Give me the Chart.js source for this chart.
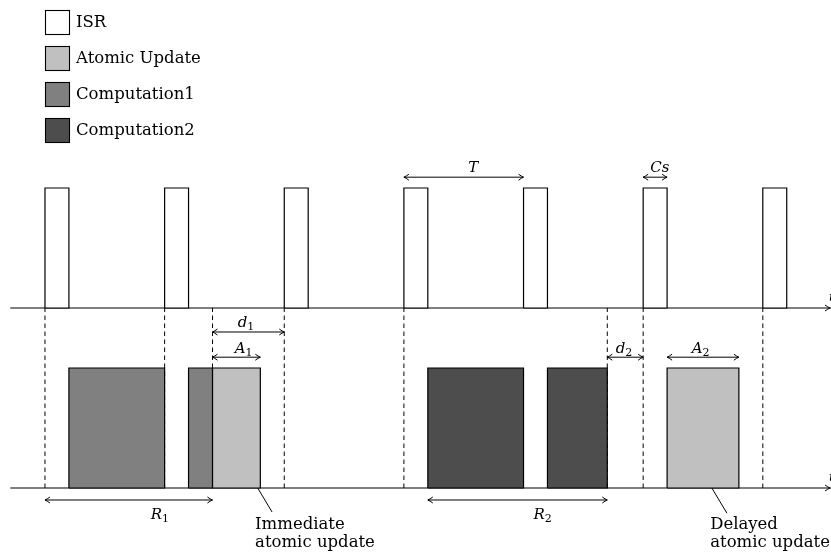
<!DOCTYPE html>
<html>
<head>
<meta charset="utf-8">
<script src="https://cdn.jsdelivr.net/npm/chart.js@4.4.0/dist/chart.umd.min.js"></script>
<style>
  html, body { margin: 0; padding: 0; background: #fff; }
  #wrap { width: 831px; height: 554px; }
</style>
</head>
<body>
<div id="wrap"><canvas id="timing-chart"></canvas></div>
<script>
// time is in ISR lengths (Cs = 1), heights in arbitrary units
const isrStarts = [0, 5, 10, 15, 20, 25, 30];
const isrLength = 1;
const computation1 = [[1, 5], [6, 7]];
const computation2 = [[16, 20], [21, 23.5]];
const atomicUpdates = [[7, 9], [26, 29]];
const markers = [0, 5, 7, 10, 15, 23.5, 25, 30];

const spanNames = ['T', 'Cs', 'd1', 'A1', 'd2', 'A2', 'R1', 'R2'];
const spanFrom  = [15, 25, 7, 7, 23.5, 26, 0, 16];
const spanTo    = [20, 26, 10, 9, 25, 29, 7, 23.5];
const spanLabelAt = [17.9, 25.7, 8.4, 8.3, 24.2, 27.4, 4.8, 20.8];

const legendLabels = ['ISR', 'Atomic Update', 'Computation1', 'Computation2'];
const legendColors = ['#ffffff', '#c0c0c0', '#808080', '#4d4d4d'];

// layout levels (y units)
const baseLow = 0, baseHigh = 3, boxTop = 2, isrTop = 5;
const spanLevel = { T: 5.18, Cs: 5.18, d1: 2.6, A1: 2.18, d2: 2.18, A2: 2.18, R1: -0.2, R2: -0.2 };
const spanTextLevel = { T: 5.35, Cs: 5.35, d1: 2.76, A1: 2.34, d2: 2.34, A2: 2.34, R1: -0.43, R2: -0.43 };

function rect(a, b, lo, hi, fillColor) {
  return {
    data: [{x: a, y: lo}, {x: b, y: lo}, {x: b, y: hi}, {x: a, y: hi}, {x: a, y: lo}],
    showLine: true, fill: 'shape', backgroundColor: fillColor,
    borderColor: '#000', borderWidth: 1.2, pointRadius: 0, tension: 0
  };
}
function seg(x1, y1, x2, y2, dash, w) {
  return {
    data: [{x: x1, y: y1}, {x: x2, y: y2}],
    showLine: true, fill: false, borderColor: '#000', borderWidth: w || 1,
    borderDash: dash || [], pointRadius: 0, tension: 0
  };
}

const datasets = [];
isrStarts.forEach(s => datasets.push(rect(s, s + isrLength, baseHigh, isrTop, '#ffffff')));
computation1.forEach(c => datasets.push(rect(c[0], c[1], baseLow, boxTop, legendColors[2])));
computation2.forEach(c => datasets.push(rect(c[0], c[1], baseLow, boxTop, legendColors[3])));
atomicUpdates.forEach(c => datasets.push(rect(c[0], c[1], baseLow, boxTop, legendColors[1])));
markers.forEach(m => datasets.push(seg(m, baseLow, m, baseHigh, [4.5, 3.5], 1)));
spanNames.forEach((n, i) => datasets.push(seg(spanFrom[i], spanLevel[n], spanTo[i], spanLevel[n], [], 1)));
datasets.push(seg(-1.45, baseHigh, 32.85, baseHigh, [], 1.2));
datasets.push(seg(-1.45, baseLow, 32.85, baseLow, [], 1.2));
// callout leaders
datasets.push(seg(8.02, 0.58, 9.49, -0.4, [], 1));
datasets.push(seg(27.0, 0.58, 28.5, -0.42, [], 1));

function head(ctx, px, py, dir) {
  ctx.beginPath();
  ctx.moveTo(px - dir * 5, py - 3);
  ctx.quadraticCurveTo(px - dir * 2, py - 0.8, px, py);
  ctx.quadraticCurveTo(px - dir * 2, py + 0.8, px - dir * 5, py + 3);
  ctx.stroke();
}

const annotate = {
  id: 'annotate',
  afterDatasetsDraw(chart) {
    const {ctx, scales: {x, y}} = chart;
    ctx.save();
    ctx.strokeStyle = '#000';
    ctx.fillStyle = '#000';
    ctx.lineWidth = 1;
    spanNames.forEach((n, i) => {
      const py = y.getPixelForValue(spanLevel[n]);
      head(ctx, x.getPixelForValue(spanFrom[i]), py, -1);
      head(ctx, x.getPixelForValue(spanTo[i]), py, 1);
      const tx = x.getPixelForValue(spanLabelAt[i]);
      const ty = y.getPixelForValue(spanTextLevel[n]);
      const main = n.length > 1 && /\d/.test(n[1]) ? n[0] : n;
      const sub = main === n ? '' : n.slice(1);
      ctx.font = 'italic 15px "DejaVu Serif"';
      ctx.textBaseline = 'alphabetic';
      ctx.textAlign = 'left';
      const w1 = ctx.measureText(main).width;
      ctx.font = '11px "DejaVu Serif"';
      const w2 = sub ? ctx.measureText(sub).width : 0;
      const left = tx - (w1 + w2) / 2;
      ctx.font = 'italic 15px "DejaVu Serif"';
      ctx.fillText(main, left, ty + 5);
      if (sub) {
        ctx.font = '11px "DejaVu Serif"';
        ctx.fillText(sub, left + w1, ty + 8);
      }
    });
    // axis arrowheads and clipped axis names
    const right = x.getPixelForValue(32.85) - 1;
    head(ctx, right, y.getPixelForValue(baseHigh), 1);
    head(ctx, right, y.getPixelForValue(baseLow), 1);
    ctx.font = 'italic 13px "DejaVu Serif"';
    ctx.fillText('t', right - 1, y.getPixelForValue(baseHigh) - 7);
    ctx.fillText('t', right - 1, y.getPixelForValue(baseLow) - 7);

    // callout texts
    ctx.font = '16.5px "DejaVu Serif"';
    ctx.textAlign = 'left';
    ctx.textBaseline = 'middle';
    ctx.fillText('Immediate', x.getPixelForValue(8.78), y.getPixelForValue(-0.62));
    ctx.fillText('atomic update', x.getPixelForValue(8.78), y.getPixelForValue(-0.92));
    ctx.fillText('Delayed', x.getPixelForValue(27.8), y.getPixelForValue(-0.62));
    ctx.fillText('atomic update', x.getPixelForValue(27.8), y.getPixelForValue(-0.92));

    // legend
    ctx.font = '16.5px "DejaVu Serif"';
    legendLabels.forEach((lab, i) => {
      const top = 10 + i * 36;
      ctx.fillStyle = legendColors[i];
      ctx.fillRect(45, top, 24, 24);
      ctx.lineWidth = 1.1;
      ctx.strokeRect(45.5, top + 0.5, 24, 24);
      ctx.fillStyle = '#000';
      ctx.fillText(lab, 76, top + 13);
    });
    ctx.restore();
  }
};

const timingChart = new Chart(document.getElementById('timing-chart'), {
  type: 'scatter',
  data: { datasets: datasets },
  options: {
    responsive: true,
    maintainAspectRatio: false,
    animation: false,
    layout: { padding: 0 },
    plugins: { legend: { display: false }, tooltip: { enabled: false } },
    scales: {
      x: { type: 'linear', min: -1.88, max: 32.85, display: false },
      y: { type: 'linear', min: -1.1, max: 8.133, display: false }
    }
  },
  plugins: [annotate]
});
</script>
</body>
</html>
